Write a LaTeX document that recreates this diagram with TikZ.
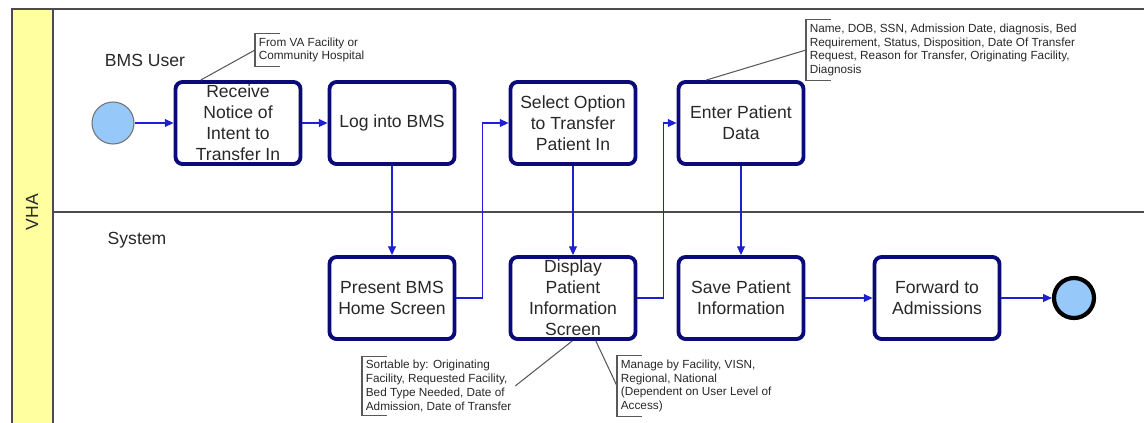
\documentclass[tikz,border=0pt]{standalone}
\usepackage{fontspec}
\setmainfont{Liberation Sans}
\usetikzlibrary{arrows.meta}

\definecolor{boxnavy}{RGB}{10,10,120}
\definecolor{flowblue}{RGB}{30,30,210}
\definecolor{poolyellow}{RGB}{255,255,160}
\definecolor{startblue}{RGB}{150,200,250}
\definecolor{txtgray}{RGB}{40,40,40}

\tikzset{
    task/.style={draw=boxnavy, line width=2.2pt, rounded corners=4pt, fill=white,
        minimum width=2.5cm, minimum height=1.64cm, inner sep=1pt, align=center,
        text=txtgray, font=\fontsize{10}{12}\selectfont},
    flow/.style={draw=flowblue, line width=0.6pt, -{Triangle[length=5pt,width=4.5pt]}},
    note/.style={anchor=west, align=left, inner sep=2pt, text=txtgray,
        font=\fontsize{6.7}{7.9}\selectfont},
    notebr/.style={draw=black!65, line width=0.6pt},
    lanetxt/.style={text=txtgray, font=\fontsize{10}{12}\selectfont},
}

\begin{document}
\begin{tikzpicture}[x=0.02cm, y=-0.02cm]
    \useasboundingbox (0,0) rectangle (1144,423);

    % pool and lanes
    \fill[poolyellow] (12,9) rectangle (53,423);
    \draw[black!70, line width=0.9pt] (1144,9) -- (12,9) -- (12,423);
    \draw[black!70, line width=0.9pt] (53,9) -- (53,423);
    \draw[black!70, line width=0.9pt] (53,212) -- (1144,212);

    \node[lanetxt, rotate=90] (vha) at (32,212) {VHA};
    \node[lanetxt] (bmsuser) at (145,60) {BMS User};
    \node[lanetxt] (system) at (137,240) {System};

    % events
    \node[circle, draw=black!55, line width=0.6pt, fill=startblue, minimum size=42*0.02cm, inner sep=0pt] (start) at (113,123) {};
    \node[circle, draw=black, line width=2.4pt, fill=startblue, minimum size=40*0.02cm, inner sep=0pt] (stop) at (1074,298) {};

    % tasks
    \node[task] (rcv) at (238,123) {Receive\\Notice of\\Intent to\\Transfer In};
    \node[task] (login) at (392,123) {Log into BMS};
    \node[task] (select) at (573,123) {Select Option\\to Transfer\\Patient In};
    \node[task] (enter) at (741,123) {Enter Patient\\Data};
    \node[task] (present) at (392,298) {Present BMS\\Home Screen};
    \node[task] (display) at (573,298) {Display\\Patient\\Information\\Screen};
    \node[task] (save) at (741,298) {Save Patient\\Information};
    \node[task] (fwd) at (937,298) {Forward to\\Admissions};

    % sequence flows
    \draw[flow] (start) -- (rcv);
    \draw[flow] (rcv) -- (login);
    \draw[flow] (login) -- (present);
    \draw[flow] (present.east) -- ++(26,0) |- (select);
    \draw[flow] (select) -- (display);
    \draw[flow] (display.east) -- ++(26,0) |- (enter);
    \draw[flow] (enter) -- (save);
    \draw[flow] (save) -- (fwd);
    \draw[flow] (fwd) -- (stop);

    % annotations
    \node[note] (srcnote) at (255,50) {From VA Facility or\\Community Hospital};
    \node[note] (datanote) at (806,50) {Name, DOB, SSN, Admission Date, diagnosis, Bed\\Requirement, Status, Disposition, Date Of Transfer\\Request, Reason for Transfer, Originating Facility,\\Diagnosis};
    \node[note] (sortnote) at (362,386) {Sortable by: Originating\\Facility, Requested Facility,\\Bed Type Needed, Date of\\Admission, Date of Transfer};
    \node[note] (mgmtnote) at (617,386) {Manage by Facility, VISN,\\Regional, National\\(Dependent on User Level of\\Access)};

    \foreach \n in {srcnote,datanote,sortnote,mgmtnote}
        \draw[notebr] ([xshift=0.5cm]\n.north west) -- (\n.north west) -- (\n.south west) -- ([xshift=0.5cm]\n.south west);

    \draw[notebr] (rcv.131) -- (srcnote.west);
    \draw[notebr] (enter.129) -- (datanote.west);
    \draw[notebr] (display.269) -- (sortnote.east);
    \draw[notebr] (display.298) -- (mgmtnote.west);
\end{tikzpicture}
\end{document}
